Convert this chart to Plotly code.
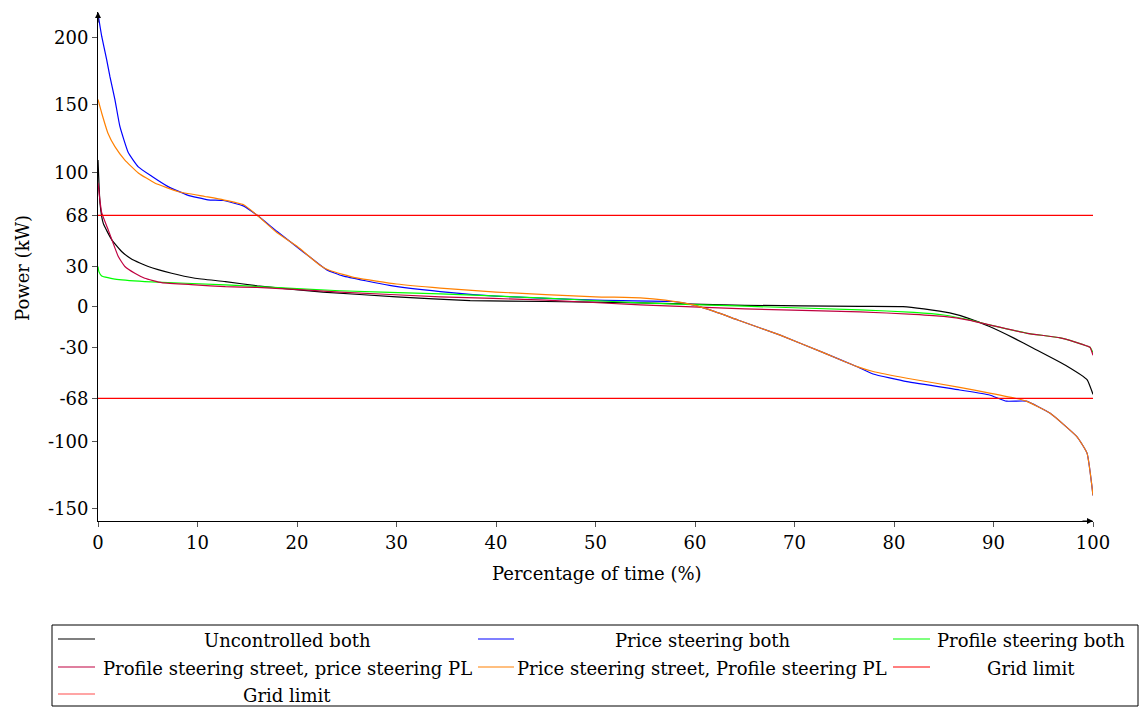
import plotly.graph_objects as go

# ---- data ----
unc_x = [0, 0.2, 0.53, 1.37, 2.4, 3.4, 5.05, 7.4, 9.75, 12.8, 16, 22.6, 30, 37.4, 45, 54.5, 65, 76.6, 80.9, 83, 85.6, 87.5, 89.6, 92, 94, 97.4, 99.4, 100]
unc_y = [109, 77, 62, 50, 41, 35.4, 30, 25, 21.3, 18.8, 15.6, 11, 7.5, 4.7, 4, 3, 1.2, 0.4, 0.2, -1.5, -4.5, -8.5, -14.6, -23, -30.7, -44, -54, -65]

price_x = [0, 0.1, 0.37, 0.87, 1.2, 1.7, 2.2, 3.05, 4.05, 5.4, 7.0, 9.0, 11.05, 12.6, 14.6, 16, 18, 20.6, 22, 23, 24.6, 29.3, 34.4, 40, 50, 57.8, 59.8, 62, 64.3, 68.5, 72.9, 76.3, 77.9, 81.3, 86.6, 89.6, 91.3, 93.3, 95.7, 98.4, 99.4, 100]
price_y = [218, 213, 201, 183.6, 171, 154, 134, 114.4, 104, 97, 89.5, 83, 79.5, 79, 75, 68, 56, 41, 33, 27.5, 23, 16, 11.4, 8, 5, 4, 1.5, -3.5, -9.7, -20.8, -34, -44.4, -49.8, -55.5, -61.7, -65.4, -70, -70, -79, -96.5, -108.6, -140]

prof_x = [0, 0.1, 0.37, 1.7, 4.7, 12.8, 24.3, 34.4, 45, 54.5, 65, 76.6, 82, 85, 87.5, 89.6, 93.4, 96.7, 99, 99.7, 100]
prof_y = [30, 26, 23, 20.6, 18.8, 16.4, 12, 9.7, 6.5, 3, 0.5, -2.2, -4, -6, -9.5, -13.4, -19.6, -23, -28, -30, -34]

psspl_x = [0, 0.37, 1.04, 2.04, 2.7, 3.7, 4.7, 6.4, 9.75, 12.8, 16, 24.3, 34.4, 45, 54.5, 65, 76.6, 82, 85, 87.5, 89.6, 93.4, 96.7, 99, 99.7, 100]
psspl_y = [92, 70, 57, 37.4, 30, 25, 21.3, 18, 16.4, 15, 14.5, 11, 7.5, 5, 1.5, -1.5, -3.7, -5.5, -7, -9.8, -13.4, -19.6, -23, -28, -30, -36]

pspf_x = [0, 0.37, 1.0, 1.7, 2.7, 4.05, 5.7, 8.0, 10.75, 12.6, 14.6, 16, 18, 20, 22.3, 23.3, 26, 30, 34.4, 40, 50, 54.5, 57, 59.8, 62, 64.3, 68.5, 72.9, 76.3, 77.9, 81.3, 86.6, 89.6, 92.3, 93.3, 95.7, 98.4, 99.4, 100]
pspf_y = [154, 144, 129, 119, 109, 99.5, 92, 85.7, 82, 79.5, 76, 68, 55, 45, 31, 27, 21.5, 17, 14, 11, 7.5, 6.7, 5, 1.5, -3.5, -9.7, -20.8, -34, -44.4, -48, -53, -59.7, -64, -68, -70, -79, -96.5, -108.6, -140]

limit_x = [0, 100]
limit_up = [68, 68]
limit_low = [-68, -68]

x_ticks = [0, 10, 20, 30, 40, 50, 60, 70, 80, 90, 100]
y_ticks = [-150, -100, -68, -30, 0, 30, 68, 100, 150, 200]

names = ["Uncontrolled both", "Price steering both", "Profile steering both",
         "Profile steering street, price steering PL", "Price steering street, Profile steering PL",
         "Grid limit", "Grid limit"]
colors = ["#000000", "#0000ff", "#00ff00", "#bf0040", "#ff8000", "#ff0000", "#ff4d4d"]

FONT = "DejaVu Serif"
FS = 18

fig = go.Figure()
series = [(unc_x, unc_y), (price_x, price_y), (prof_x, prof_y), (psspl_x, psspl_y),
          (pspf_x, pspf_y), (limit_x, limit_up), (limit_x, limit_low)]
line_colors = ["#000000", "#0000ff", "#00ff00", "#bf0040", "#ff8000", "#ff0000", "#ff0000"]
for (xs, ys), nm, c in zip(series, names, line_colors):
    fig.add_trace(go.Scatter(x=xs, y=ys, mode="lines", name=nm,
                             line=dict(color=c, width=1.2, shape="spline", smoothing=0.4),
                             showlegend=False))

# plot area in pixels
L, R, T, B = 98, 1093, 12, 521
W, H = R - L, B - T
def px(xp):
    return (xp - L) / W
def py(yp):
    return (B - yp) / H

shapes = []
annotations = []
# legend box
shapes.append(dict(type="rect", xref="paper", yref="paper",
                   x0=px(52), x1=px(1138), y0=py(625), y1=py(706),
                   line=dict(color="black", width=1), fillcolor="white", layer="above"))
col_samples = [(58, 95), (478, 514), (893, 930)]
col_centers = [287, 702, 1031]
row_y = [640, 668, 695]
for i, nm in enumerate(names):
    r, c = divmod(i, 3)
    x0, x1 = col_samples[c]
    shapes.append(dict(type="line", xref="paper", yref="paper",
                       x0=px(x0), x1=px(x1), y0=py(row_y[r] - 1), y1=py(row_y[r] - 1),
                       line=dict(color=colors[i], width=1.2)))
    annotations.append(dict(text=nm, xref="paper", yref="paper", x=px(col_centers[c]),
                            y=py(row_y[r]), xanchor="center", yanchor="middle",
                            showarrow=False, font=dict(family=FONT, size=FS, color="black")))

# axis titles
annotations.append(dict(text="Percentage of time (%)", xref="paper", yref="paper",
                        x=px(597), y=py(573), xanchor="center", yanchor="middle",
                        showarrow=False, font=dict(family=FONT, size=FS, color="black")))
annotations.append(dict(text="Power (kW)", xref="paper", yref="paper",
                        x=px(22), y=py(268), xanchor="center", yanchor="middle", textangle=-90,
                        showarrow=False, font=dict(family=FONT, size=FS, color="black")))
# axis arrows
annotations.append(dict(x=0, y=219, xref="x", yref="y", ax=0, ay=12,
                        text="", showarrow=True, arrowhead=2, arrowsize=1, arrowwidth=1.2,
                        arrowcolor="black"))
annotations.append(dict(x=100, y=-159, xref="x", yref="y", ax=-12, ay=0,
                        text="", showarrow=True, arrowhead=2, arrowsize=1, arrowwidth=1.2,
                        arrowcolor="black"))

fig.update_layout(
    width=1142, height=711,
    margin=dict(l=L, r=1142 - R, t=T, b=711 - B),
    plot_bgcolor="white", paper_bgcolor="white",
    font=dict(family=FONT, size=FS, color="black"),
    showlegend=False,
    shapes=shapes, annotations=annotations,
    xaxis=dict(range=[0, 100], tickvals=x_ticks, ticktext=[str(v) for v in x_ticks],
               showgrid=False, zeroline=False, showline=True, linecolor="black", linewidth=1,
               ticks="outside", ticklen=5, tickcolor="#555555", tickwidth=1,
               tickfont=dict(family=FONT, size=FS, color="black")),
    yaxis=dict(range=[-159, 219], tickvals=y_ticks, ticktext=[str(v) for v in y_ticks],
               showgrid=False, zeroline=False, showline=True, linecolor="black", linewidth=1,
               ticks="outside", ticklen=5, tickcolor="#555555", tickwidth=1,
               tickfont=dict(family=FONT, size=FS, color="black")),
)

fig.write_html("out.html")
